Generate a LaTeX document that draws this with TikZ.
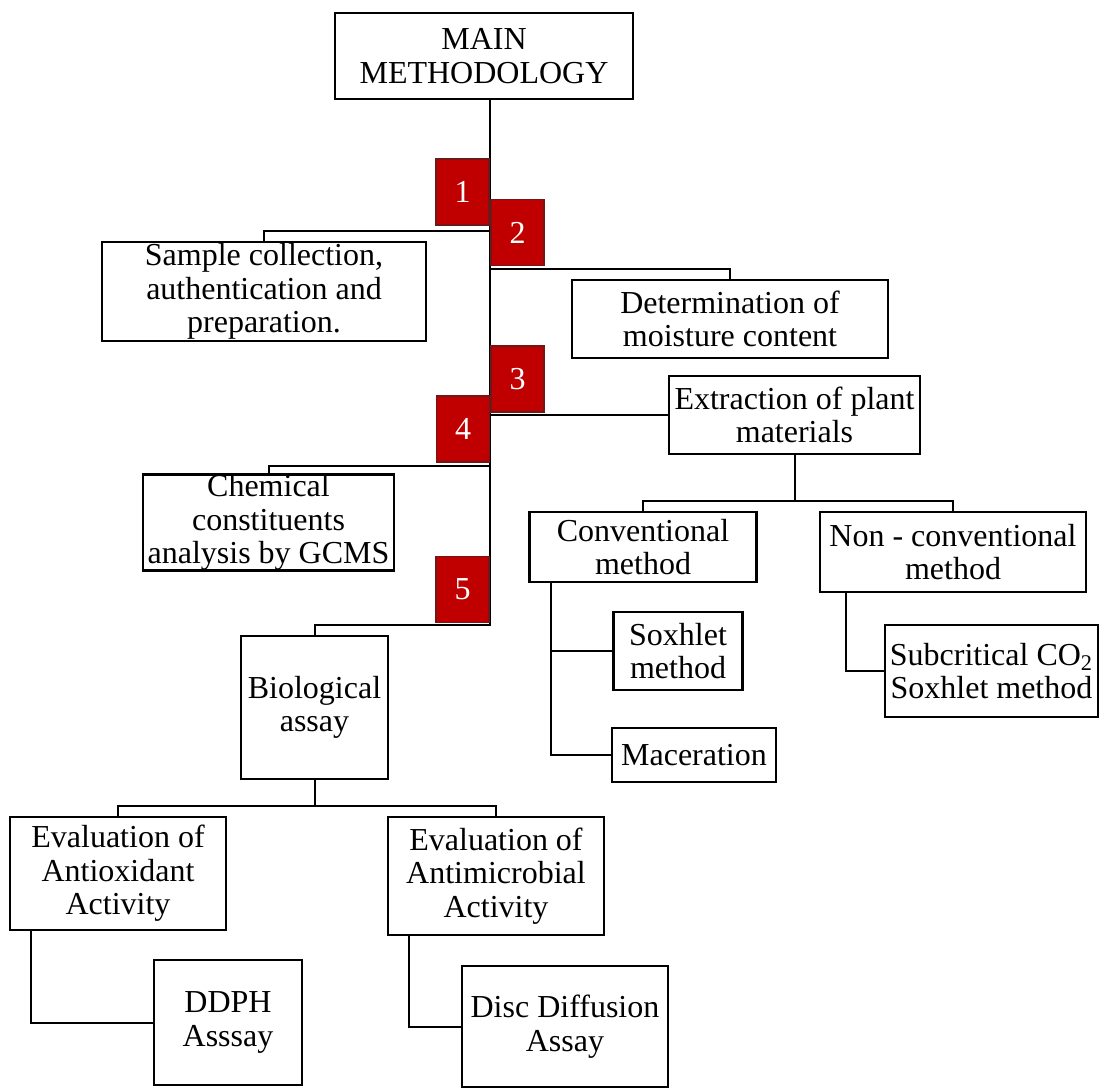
\documentclass[tikz,border=0pt]{standalone}
\usepackage{fontspec}
\setmainfont{Liberation Serif}
\usepackage{tikz}
\definecolor{badgered}{RGB}{192,0,0}
\definecolor{badgeedge}{RGB}{110,24,24}

\begin{document}
\begin{tikzpicture}[x=0.5pt, y=-0.5pt,
    font=\fontsize{16}{16.75}\selectfont,
    box/.style={draw, line width=1.1pt, align=center, inner xsep=1pt, inner ysep=0pt},
    num/.style={draw=badgeedge, line width=0.6pt, fill=badgered, text=white,
        minimum width=26.5pt, minimum height=33pt, inner sep=0pt},
    link/.style={line width=1pt},
    hv/.style={to path={-| (\tikztotarget)}},
    vh/.style={to path={|- (\tikztotarget)}}]
    \useasboundingbox (0,0) rectangle (1100,1091);

    % boxes
    \node[box, minimum width=149pt, minimum height=43pt] (main) at (484,56) {MAIN\\METHODOLOGY};
    \node[box, minimum width=162pt, minimum height=49.5pt] (samp) at (264,291.5) {Sample collection,\\authentication and\\preparation.};
    \node[box, minimum width=158pt, minimum height=39pt] (moist) at (730,319) {Determination of\\moisture content};
    \node[box, minimum width=125.5pt, minimum height=39pt] (extr) at (794.5,415) {Extraction of plant\\materials};
    \node[box, minimum width=125.5pt, minimum height=46.5pt] (chem) at (268.5,522.5) {Chemical\\constituents\\analysis by GCMS};
    \node[box, minimum width=113.5pt, minimum height=35.25pt] (conv) at (643,547) {Conventional\\method};
    \node[box, minimum width=133pt, minimum height=40pt] (ncon) at (953,552) {Non - conventional\\method};
    \node[box, minimum width=64.5pt, minimum height=39pt] (soxh) at (678,651) {Soxhlet\\method};
    \node[box, minimum width=82pt, minimum height=27pt] (mace) at (694,755) {Maceration};
    \node[box, minimum width=106.5pt, minimum height=46pt] (subc) at (991.5,671) {Subcritical CO\textsubscript{2}\\Soxhlet method};
    \node[box, minimum width=73.5pt, minimum height=71.5pt] (bio) at (314.5,707.5) {Biological\\assay};
    \node[box, minimum width=108pt, minimum height=56.5pt] (anox) at (118,873.5) {Evaluation of\\Antioxidant\\Activity};
    \node[box, minimum width=108pt, minimum height=59pt] (anmi) at (496,876) {Evaluation of\\Antimicrobial\\Activity};
    \node[box, minimum width=74pt, minimum height=62.5pt] (ddph) at (228,1022.5) {DDPH\\Asssay};
    \node[box, minimum width=103pt, minimum height=60.5pt] (disc) at (565,1026.5) {Disc Diffusion\\Assay};

    % junctions on the trunk
    \coordinate (j1) at (490,231);
    \coordinate (j2) at (490,269);
    \coordinate (j3) at (490,415);
    \coordinate (j4) at (490,466);
    \coordinate (j5) at (490,625);
    \coordinate (xs) at (794.5,501);
    \coordinate (bs) at (314.5,806);

    \draw[line width=1.4pt] (main.south -| j5) -- ([yshift=-0.5pt]j5);
    \path[draw, link]
    (j1) edge[hv] (samp.north)
    (j2) edge[hv] (moist.north)
    (j3) edge (extr.west)
    (j4) edge[hv] (chem.north)
    (j5) edge[hv] (bio.north)
    (extr.south) edge (xs)
    (xs) edge[hv] (conv.north)
    (xs) edge[hv] (ncon.north)
    ([xshift=11.5pt]conv.south west) edge[vh] (soxh.west)
    ([xshift=11.5pt]conv.south west) edge[vh] (mace.west)
    ([xshift=13.75pt]ncon.south west) edge[vh] (subc.west)
    (bio.south) edge (bs)
    (bs) edge[hv] (anox.north)
    (bs) edge[hv] (anmi.north)
    ([xshift=11pt]anox.south west) edge[vh] (ddph.west)
    ([xshift=11pt]anmi.south west) edge[vh] (disc.west);

    % step numbers
    \node[num] (n1) at (462.5,192) {1};
    \node[num] (n2) at (517.5,232.5) {2};
    \node[num] (n3) at (517.5,379) {3};
    \node[num] (n4) at (463,429) {4};
    \node[num] (n5) at (462.5,589.5) {5};
\end{tikzpicture}
\end{document}
